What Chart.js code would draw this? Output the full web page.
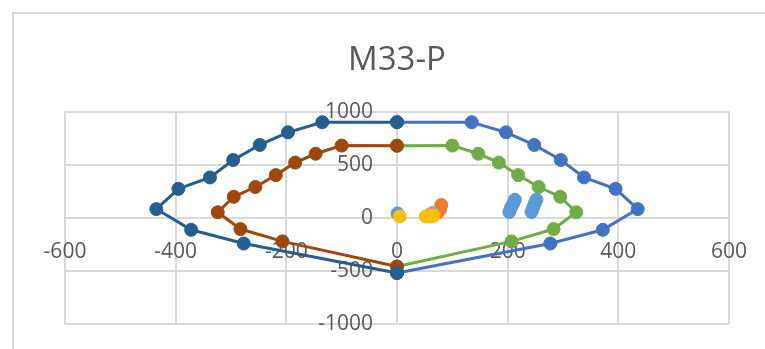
<!DOCTYPE html>
<html>
<head>
<meta charset="utf-8">
<title>M33-P</title>
<script src="https://cdn.jsdelivr.net/npm/chart.js@4/dist/chart.umd.min.js"></script>
<style>
  html, body { margin: 0; padding: 0; background: #ffffff; }
  #wrap { width: 765px; height: 349px; }
</style>
</head>
<body>
<div id="wrap"><canvas id="c" width="765" height="349"></canvas></div>
<script>
// Interaction diagram curves (M, P)
const outerLeftX  = [0, -135, -197, -248, -296, -338, -395, -435, -372, -277, 0];
const outerLeftY  = [900, 900, 805, 686, 544, 380, 273, 82, -113, -242, -520];
const outerRightX = [0, 135, 197, 248, 296, 338, 395, 435, 372, 277, 0];
const outerRightY = [900, 900, 805, 686, 544, 380, 273, 82, -113, -242, -520];
const innerLeftX  = [0, -100, -147, -184, -219, -256, -295, -324, -283, -207, 0];
const innerLeftY  = [679, 680, 603, 520, 402, 290, 198, 52, -106, -222, -459];
const innerRightX = [0, 100, 147, 184, 219, 256, 295, 324, 283, 207, 0];
const innerRightY = [679, 680, 603, 520, 402, 290, 198, 52, -106, -222, -459];

// Demand points
const demandBlueX   = [1, 203, 206, 210, 213, 243, 246, 249, 252];
const demandBlueY   = [40, 55, 95, 135, 170, 55, 95, 135, 170];
const demandOrangeX = [80, 78, 74];
const demandOrangeY = [120, 80, 50];
const demandGrayX   = [60, 64];
const demandGrayY   = [30, 45];
const demandYellowX = [5, 52, 60, 66];
const demandYellowY = [12, 12, 14, 20];

// Axis ticks
const xTicks = [-600, -400, -200, 0, 200, 400, 600];
const yTicks = [-1000, -500, 0, 500, 1000];

function pts(xs, ys) { return xs.map((x, i) => ({ x: x, y: ys[i] })); }

function curve(label, xs, ys, color) {
  return {
    label: label, data: pts(xs, ys), showLine: true, tension: 0,
    borderColor: color, backgroundColor: color, borderWidth: 3,
    pointRadius: 6.5, pointBorderWidth: 1, pointBorderColor: color, pointBackgroundColor: color
  };
}
function dots(label, xs, ys, color) {
  return {
    label: label, data: pts(xs, ys), showLine: false,
    borderColor: color, backgroundColor: color,
    pointRadius: 6.5, pointBorderWidth: 1, pointBorderColor: color, pointBackgroundColor: color
  };
}

// Light frame around the chart
const framePlugin = {
  id: 'frame',
  beforeDraw(chart) {
    const ctx = chart.ctx;
    ctx.save();
    ctx.fillStyle = '#ffffff';
    ctx.fillRect(0, 0, chart.width, chart.height);
    ctx.strokeStyle = '#D9D9D9';
    ctx.lineWidth = 2;
    ctx.beginPath();
    ctx.moveTo(13, chart.height + 2);
    ctx.lineTo(13, 13);
    ctx.lineTo(chart.width + 2, 13);
    ctx.stroke();
    ctx.restore();
  }
};

const gridColor = '#D9D9D9';
const textColor = '#595959';
const font = "'Open Sans', 'DejaVu Sans', sans-serif";
// y labels sit a little to the left of the M = 0 line
const yLabelAnchor = -43.3;

new Chart(document.getElementById('c'), {
  type: 'scatter',
  data: {
    datasets: [
      dots('D4', demandYellowX, demandYellowY, '#FFC000'),
      dots('D3', demandGrayX, demandGrayY, '#A5A5A5'),
      dots('D2', demandOrangeX, demandOrangeY, '#ED7D31'),
      dots('D1', demandBlueX, demandBlueY, '#5B9BD5'),
      curve('Outer left', outerLeftX, outerLeftY, '#255E91'),
      curve('Inner left', innerLeftX, innerLeftY, '#9E480E'),
      curve('Inner right', innerRightX, innerRightY, '#70AD47'),
      curve('Outer right', outerRightX, outerRightY, '#4472C4')
    ]
  },
  options: {
    responsive: false,
    animation: false,
    layout: { padding: { left: 65, right: 36, top: 13, bottom: 25 } },
    plugins: {
      legend: { display: false },
      tooltip: { enabled: false },
      title: {
        display: true, text: 'M33-P', color: textColor,
        font: { family: font, size: 33, weight: 'normal' },
        padding: { top: 28, bottom: 31 }
      }
    },
    scales: {
      x: {
        type: 'linear', min: xTicks[0], max: xTicks[xTicks.length - 1],
        position: { y: 0 },
        afterBuildTicks(scale) { scale.ticks = xTicks.map(v => ({ value: v })); },
        ticks: { color: textColor, font: { family: font, size: 21 }, padding: 2, maxRotation: 0, autoSkip: false,
                 callback: v => String(v) },
        grid: { color: gridColor, lineWidth: 2, drawTicks: true, tickLength: 20, tickColor: 'rgba(0,0,0,0)' },
        border: { color: gridColor, width: 2 }
      },
      y: {
        type: 'linear', min: yTicks[0], max: yTicks[yTicks.length - 1],
        position: { x: yLabelAnchor },
        afterBuildTicks(scale) { scale.ticks = yTicks.map(v => ({ value: v })); },
        ticks: { color: textColor, font: { family: font, size: 21 }, padding: 0, autoSkip: false,
                 callback: v => String(v) },
        grid: { color: gridColor, lineWidth: 2, drawTicks: false },
        border: { display: false }
      }
    }
  },
  plugins: [framePlugin]
});
</script>
</body>
</html>
